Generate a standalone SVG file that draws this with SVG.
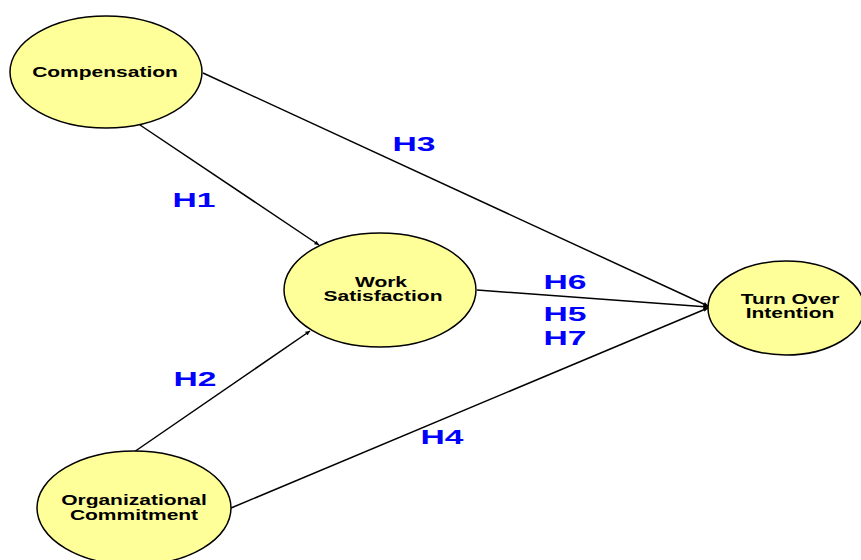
<svg xmlns="http://www.w3.org/2000/svg" width="861" height="560" viewBox="0 0 861 560">
<style>
.node{fill:#ffff99;stroke:#000;stroke-width:1.5}
.nt{font-family:"Liberation Sans",Arial,sans-serif;font-weight:bold;font-size:14px;fill:#000;text-anchor:middle}
.lbl{font-family:"Liberation Sans",Arial,sans-serif;font-weight:bold;font-size:21px;fill:#0000ff;text-anchor:middle}
.edge{stroke:#000;stroke-width:1.5;fill:none;marker-end:url(#arr)}
</style>
<defs>
<marker id="arr" viewBox="0 0 10 10" refX="10" refY="5" markerWidth="5" markerHeight="3" orient="auto" markerUnits="strokeWidth">
<path d="M0,0 L10,5 L0,10 z" fill="#000"/>
</marker>
</defs>
<rect width="861" height="560" fill="#fff"/>
<g id="connectors">
<line class="edge" x1="203" y1="73" x2="708" y2="306"/>
<line class="edge" x1="140" y1="125" x2="319" y2="245"/>
<line class="edge" x1="477" y1="290" x2="708" y2="307"/>
<line class="edge" x1="134" y1="452" x2="310" y2="331"/>
<line class="edge" x1="231" y1="508" x2="708" y2="308"/>
</g>
<g id="labels">
<text class="lbl" transform="translate(414,151) scale(1.6,1)">H3</text>
<text class="lbl" transform="translate(194,207) scale(1.6,1)">H1</text>
<text class="lbl" transform="translate(565,289) scale(1.6,1)">H6</text>
<text class="lbl" transform="translate(565,321) scale(1.6,1)">H5</text>
<text class="lbl" transform="translate(565,345) scale(1.6,1)">H7</text>
<text class="lbl" transform="translate(195,386) scale(1.6,1)">H2</text>
<text class="lbl" transform="translate(442,444) scale(1.6,1)">H4</text>
</g>
<g id="compensation">
<ellipse class="node" cx="106" cy="72" rx="96" ry="56"/>
<text class="nt" transform="translate(105,77) scale(1.5,1)">Compensation</text>
</g>
<g id="work-satisfaction">
<ellipse class="node" cx="380" cy="290" rx="96" ry="57"/>
<text class="nt" transform="translate(381,287) scale(1.5,1)">Work</text>
<text class="nt" transform="translate(383,301) scale(1.5,1)">Satisfaction</text>
</g>
<g id="turn-over-intention">
<ellipse class="node" cx="786" cy="308" rx="78" ry="47"/>
<text class="nt" transform="translate(790,304) scale(1.5,1)">Turn Over</text>
<text class="nt" transform="translate(790,318) scale(1.5,1)">Intention</text>
</g>
<g id="organizational-commitment">
<ellipse class="node" cx="134" cy="508" rx="97" ry="57"/>
<text class="nt" transform="translate(134,505) scale(1.5,1)">Organizational</text>
<text class="nt" transform="translate(134,520) scale(1.5,1)">Commitment</text>
</g>
</svg>
